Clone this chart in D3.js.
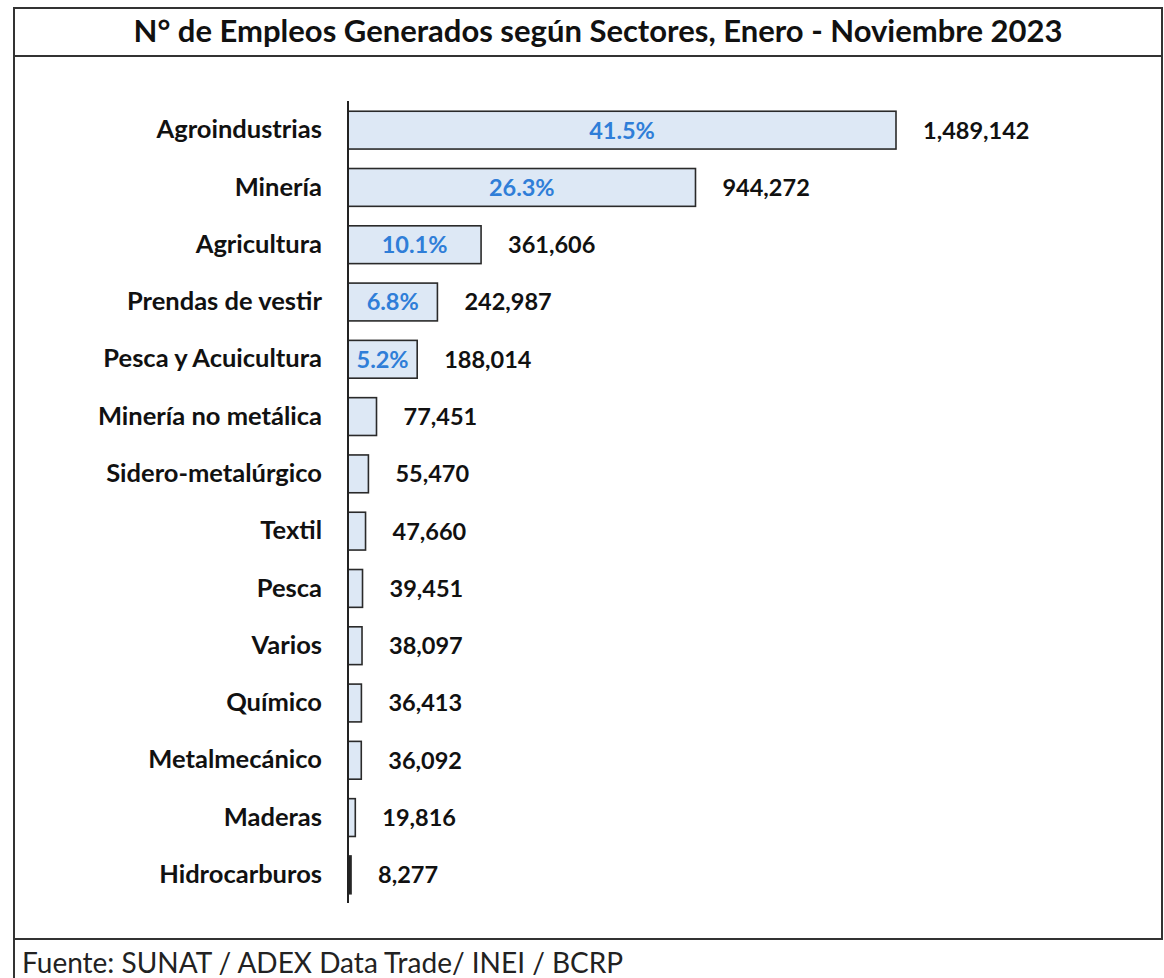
<!DOCTYPE html>
<html><head><meta charset="utf-8">
<script src="https://cdn.jsdelivr.net/npm/d3@7"></script>
<style>body{margin:0;background:#fff}svg{display:block}</style>
</head><body>
<svg id="chart" width="1164" height="978"></svg>
<script>
const categories = ["Agroindustrias","Minería","Agricultura","Prendas de vestir","Pesca y Acuicultura","Minería no metálica","Sidero-metalúrgico","Textil","Pesca","Varios","Químico","Metalmecánico","Maderas","Hidrocarburos"];
const values = [1489142,944272,361606,242987,188014,77451,55470,47660,39451,38097,36413,36092,19816,8277];
const shares = ["41.5%","26.3%","10.1%","6.8%","5.2%",null,null,null,null,null,null,null,null,null];
const title = "N° de Empleos Generados según Sectores, Enero - Noviembre 2023";
const source = "Fuente: SUNAT / ADEX Data Trade/ INEI / BCRP";

const svg = d3.select("#chart");
const font = "Lato, 'Open Sans', sans-serif";

// frame
svg.append("rect").attr("x",14).attr("y",8).attr("width",1148).attr("height",931)
  .attr("fill","none").attr("stroke","#333").attr("stroke-width",2);
svg.append("line").attr("x1",14).attr("x2",1162).attr("y1",56).attr("y2",56).attr("stroke","#333").attr("stroke-width",2);
svg.append("line").attr("x1",14).attr("x2",14).attr("y1",939).attr("y2",978).attr("stroke","#333").attr("stroke-width",2);

svg.append("text").attr("x",598).attr("y",42).attr("text-anchor","middle")
  .attr("font-family",font).attr("font-weight","bold").attr("font-size",31).attr("fill","#111").text(title);
svg.append("text").attr("x",22).attr("y",973)
  .attr("font-family",font).attr("font-size",28).attr("fill","#222").text(source);

const x0 = 348;
const x = d3.scaleLinear().domain([0,1489142]).range([x0, 896]);
const y = d3.scaleBand().domain(categories).range([101.5, 903.5]).paddingInner(0.34).paddingOuter(0.17);

const rows = categories.map((c,i)=>({c, v:values[i], s:shares[i]}));

svg.selectAll("rect.bar").data(rows).join("rect").attr("class","bar")
  .attr("x",x0).attr("y",d=>y(d.c)).attr("width",d=>x(d.v)-x0).attr("height",y.bandwidth())
  .attr("fill",d=>d.v<10000?"#222":"#dde8f5").attr("stroke","#2a2a2a").attr("stroke-width",1.6);

// axis
const yAxis = d3.axisLeft(y).tickSize(0).tickPadding(26);
const ag = svg.append("g").attr("transform",`translate(${x0},0)`).call(yAxis);
ag.select(".domain").attr("stroke","#222").attr("stroke-width",2).attr("d","M0,101V903");
ag.selectAll("text").attr("font-family",font).attr("font-weight","bold").attr("font-size",25.5).attr("fill","#111");

svg.selectAll("text.val").data(rows).join("text").attr("class","val")
  .attr("x",d=>x(d.v)+27).attr("y",d=>y(d.c)+y.bandwidth()/2).attr("dy","0.36em")
  .attr("font-family",font).attr("font-weight","bold").attr("font-size",23.5).attr("fill","#111")
  .text(d=>d3.format(",")(d.v));

svg.selectAll("text.pct").data(rows.filter(d=>d.s)).join("text").attr("class","pct")
  .attr("x",d=>(x0+x(d.v))/2).attr("y",d=>y(d.c)+y.bandwidth()/2).attr("dy","0.36em")
  .attr("text-anchor","middle")
  .attr("font-family",font).attr("font-weight","bold").attr("font-size",23.5).attr("fill","#2f7ed8")
  .text(d=>d.s);
</script>
</body></html>
